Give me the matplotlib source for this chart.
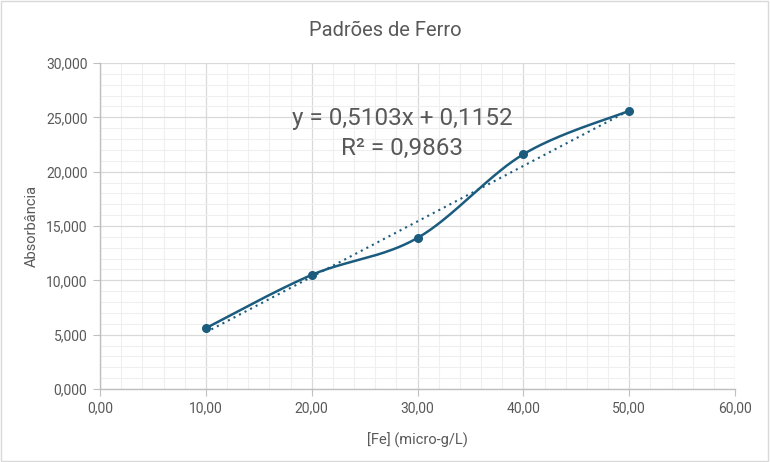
import numpy as np
import matplotlib
matplotlib.use("Agg")
import matplotlib.pyplot as plt
from matplotlib.ticker import MultipleLocator, FuncFormatter

plt.rcParams['font.family'] = ['Roboto', 'DejaVu Sans']

# data
fe_conc = [10, 20, 30, 40, 50]
absorb = [5.60, 10.50, 13.90, 21.60, 25.60]
slope, intercept = 0.5103, 0.1152
eq_text = "y = 0,5103x + 0,1152"
r2_text = "R² = 0,9863"
title = "Padrões de Ferro"
xlabel = "[Fe] (micro-g/L)"
ylabel = "Absorbância"

series_color = "#1b5c7e"
text_color = "#595959"

fig = plt.figure(figsize=(7.7, 4.62), dpi=100)
ax = fig.add_axes([100/770, 1-389/462, 635/770, 326/462])

# figure border
fig.patches.append(plt.Rectangle((0.001, 0.002), 0.997, 0.996, transform=fig.transFigure,
                                 fill=False, edgecolor="#d9d9d9", lw=1))

# Excel-like smoothed line (cardinal spline via Bezier segments)
def smooth(xs, ys, n=40):
    xs = np.asarray(xs, float); ys = np.asarray(ys, float)
    px = np.concatenate([[xs[0]], xs, [xs[-1]]])
    py = np.concatenate([[ys[0]], ys, [ys[-1]]])
    outx, outy = [], []
    t = np.linspace(0, 1, n)
    for i in range(1, len(px) - 2):
        p0 = np.array([px[i], py[i]]); p3 = np.array([px[i+1], py[i+1]])
        p1 = p0 + (np.array([px[i+1], py[i+1]]) - np.array([px[i-1], py[i-1]])) / 6
        p2 = p3 - (np.array([px[i+2], py[i+2]]) - np.array([px[i], py[i]])) / 6
        b = ((1-t)**3)[:, None]*p0 + (3*(1-t)**2*t)[:, None]*p1 + (3*(1-t)*t**2)[:, None]*p2 + (t**3)[:, None]*p3
        outx.extend(b[:, 0]); outy.extend(b[:, 1])
    return np.array(outx), np.array(outy)

sx, sy = smooth(fe_conc, absorb)
ax.plot(sx, sy, color=series_color, lw=1.8, zorder=3, solid_capstyle='round')
ax.plot(fe_conc, absorb, 'o', color=series_color, ms=5.5, zorder=4)

tx = np.array([fe_conc[0], fe_conc[-1]])
ax.plot(tx, slope*tx + intercept, color=series_color, lw=1.5, ls=(0, (1, 2)), zorder=2)

ax.set_xlim(0, 60)
ax.set_ylim(0, 30)
ax.xaxis.set_major_locator(MultipleLocator(10))
ax.xaxis.set_minor_locator(MultipleLocator(2))
ax.yaxis.set_major_locator(MultipleLocator(5))
ax.yaxis.set_minor_locator(MultipleLocator(1))
ax.xaxis.set_major_formatter(FuncFormatter(lambda v, p: f"{v:.2f}".replace('.', ',')))
ax.yaxis.set_major_formatter(FuncFormatter(lambda v, p: f"{v:.3f}".replace('.', ',')))
ax.grid(which='major', color='#d9d9d9', lw=0.9)
ax.grid(which='minor', color='#efefef', lw=0.8)
ax.set_axisbelow(True)
for s in ['top', 'right']:
    ax.spines[s].set_visible(False)
for s in ['left', 'bottom']:
    ax.spines[s].set_color('#bfbfbf')
    ax.spines[s].set_linewidth(1)
ax.tick_params(which='major', length=5, color='#bfbfbf', labelcolor=text_color, labelsize=10, pad=4)
ax.tick_params(which='minor', length=0)

ax.set_xlabel(xlabel, color=text_color, fontsize=10.5, labelpad=12)
ax.set_ylabel(ylabel, color=text_color, fontsize=10.5, labelpad=5)
fig.text(385/770, 1-30/462, title, ha='center', va='center', color=text_color, fontsize=14.5)

fig.text(402/770, 1-118/462, eq_text, ha='center', va='center', color=text_color, fontsize=17.5)
fig.text(402/770, 1-148/462, r2_text, ha='center', va='center', color=text_color, fontsize=17.5)

fig.savefig("out.png", dpi=100)
